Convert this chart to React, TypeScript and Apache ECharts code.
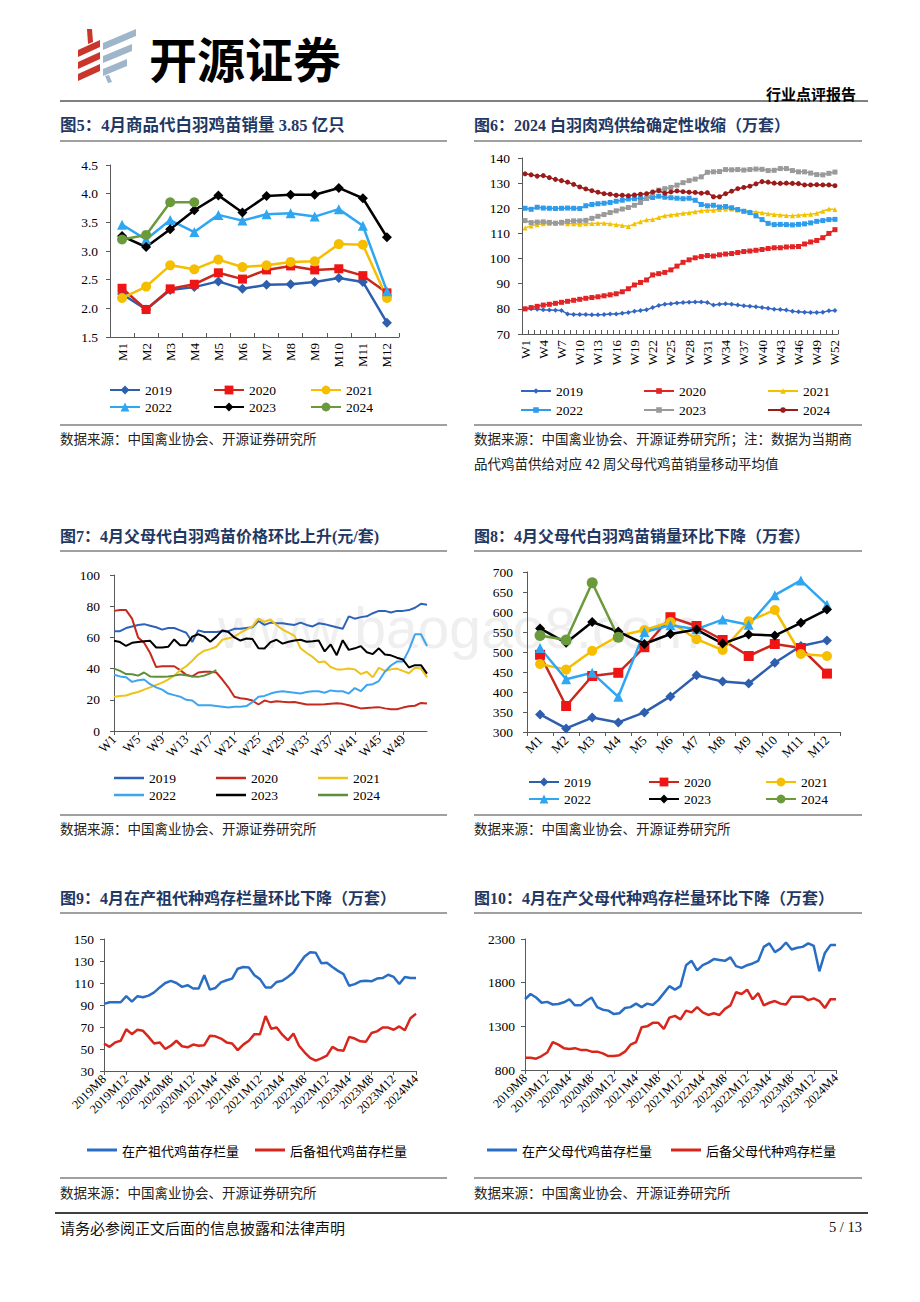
import React, { useEffect, useRef } from "react";
import * as echarts from "echarts";

const SERIF = "'Liberation Serif','Times New Roman',serif";
const CJK = "'Liberation Serif','Noto Sans CJK SC',sans-serif";
const CJK_SANS = "'Noto Sans CJK SC','Noto Sans',sans-serif";

// ---------- category labels ----------
const months = ["M1", "M2", "M3", "M4", "M5", "M6", "M7", "M8", "M9", "M10", "M11", "M12"];
const weeks52 = Array.from({ length: 52 }, (_, i) => "W" + (i + 1));
const weeks53 = Array.from({ length: 53 }, (_, i) => "W" + (i + 1));
const ymLabels: string[] = [];
for (let y = 2019; y <= 2024; y++) {
  for (let m = 1; m <= 12; m++) {
    if ((y === 2019 && m < 8) || (y === 2024 && m > 4)) continue;
    ymLabels.push(`${y}M${m}`);
  }
}
const years = ["2019", "2020", "2021", "2022", "2023", "2024"];

// ---------- Fig 5: commercial chick sales (亿只) ----------
const f5_2019 = [2.25, 1.98, 2.32, 2.37, 2.47, 2.34, 2.41, 2.42, 2.46, 2.53, 2.46, 1.75];
const f5_2020 = [2.35, 1.98, 2.34, 2.42, 2.62, 2.51, 2.67, 2.74, 2.67, 2.69, 2.57, 2.27];
const f5_2021 = [2.18, 2.38, 2.75, 2.68, 2.85, 2.72, 2.75, 2.81, 2.82, 3.12, 3.11, 2.18];
const f5_2022 = [3.46, 3.20, 3.54, 3.33, 3.63, 3.53, 3.64, 3.66, 3.60, 3.73, 3.44, 2.30];
const f5_2023 = [3.26, 3.07, 3.38, 3.71, 3.97, 3.67, 3.96, 3.98, 3.98, 4.10, 3.92, 3.24];
const f5_2024 = [3.20, 3.28, 3.85, 3.85];

// ---------- Fig 6: supply (万套) ----------
const f6_2019 = [80.0, 80.0, 79.8, 79.6, 79.5, 79.4, 79.3, 78.0, 77.8, 77.8, 77.8, 77.7, 77.7, 77.8, 78.0, 78.0, 78.3, 78.6, 79.0, 79.3, 79.6, 80.5, 81.3, 81.8, 82.0, 82.3, 82.5, 82.6, 82.7, 82.7, 82.5, 81.5, 81.8, 82.0, 81.8, 81.5, 81.2, 81.0, 80.8, 80.5, 80.2, 79.8, 79.7, 79.5, 79.0, 78.8, 78.7, 78.6, 78.6, 78.7, 79.2, 79.3];
const f6_2020 = [80.0, 80.5, 81.0, 81.5, 81.8, 82.2, 82.6, 83.0, 83.4, 83.8, 84.2, 84.5, 84.8, 85.2, 85.6, 86.0, 86.8, 88.0, 89.5, 90.5, 91.5, 93.5, 94.0, 94.5, 95.5, 97.0, 98.5, 99.5, 100.3, 100.8, 101.2, 101.0, 101.5, 101.8, 102.0, 102.4, 102.8, 103.0, 103.3, 103.6, 104.0, 104.3, 104.3, 104.6, 104.7, 104.8, 105.8, 106.6, 107.2, 108.3, 110.0, 111.5];
const f6_2021 = [112.2, 113.0, 113.5, 113.8, 113.9, 114.0, 114.0, 113.8, 113.8, 113.7, 113.8, 113.9, 114.0, 114.0, 113.8, 113.5, 113.2, 112.8, 113.8, 114.6, 115.4, 115.5, 116.3, 117.0, 117.3, 117.6, 118.0, 118.2, 118.6, 119.0, 119.2, 119.2, 119.5, 119.7, 119.7, 119.3, 119.0, 118.7, 118.5, 118.2, 117.8, 117.5, 117.3, 117.1, 117.0, 117.2, 117.4, 117.6, 118.0, 118.8, 119.7, 119.5];
const f6_2022 = [120.0, 119.6, 120.4, 120.1, 120.0, 119.9, 120.0, 120.1, 120.0, 119.9, 121.0, 121.5, 121.8, 122.0, 122.3, 122.8, 123.2, 123.7, 123.8, 124.0, 124.0, 124.3, 124.8, 124.4, 124.2, 124.0, 123.8, 124.0, 123.2, 121.5, 121.0, 121.2, 120.5, 120.7, 120.2, 119.5, 118.8, 118.3, 117.0, 115.5, 114.0, 113.5, 113.6, 113.5, 113.4, 113.6, 113.8, 114.2, 114.8, 115.1, 115.5, 115.6];
const f6_2023 = [115.1, 114.3, 114.5, 114.6, 114.4, 114.1, 114.4, 114.8, 115.0, 115.0, 115.2, 116.0, 116.8, 117.5, 118.3, 119.0, 119.7, 120.3, 121.2, 122.3, 124.0, 125.8, 127.2, 127.8, 128.3, 129.2, 130.2, 131.0, 131.6, 132.5, 134.3, 134.5, 134.6, 135.4, 135.3, 135.4, 135.2, 135.4, 135.6, 135.5, 135.0, 135.1, 135.8, 135.8, 135.0, 134.5, 134.5, 134.0, 133.4, 133.3, 133.9, 134.4];
const f6_2024 = [133.7, 133.3, 132.8, 133.0, 132.2, 131.5, 131.0, 130.4, 129.5, 128.5, 127.7, 127.0, 126.4, 125.8, 125.6, 125.2, 125.2, 125.0, 125.3, 125.6, 125.8, 126.5, 127.0, 126.0, 126.5, 126.9, 126.6, 126.4, 126.3, 126.0, 126.2, 124.6, 124.6, 125.8, 126.8, 127.8, 128.3, 128.8, 129.7, 130.6, 130.4, 130.0, 129.9, 130.0, 129.9, 129.8, 129.3, 129.3, 129.4, 129.3, 129.3, 129.0];

// ---------- Fig 7: parent chick price (元/套) ----------
const f7_2019 = [64, 64, 66, 67, 68, 68.5, 67.5, 66.5, 65, 66, 66, 64.5, 63, 57, 64.5, 63.5, 63.5, 63.5, 64, 64, 65.5, 65.5, 66, 66.5, 70.5, 68, 69.5, 69, 69, 68.5, 68, 69.5, 68, 67, 69, 68.5, 67.5, 66.5, 65.5, 73.5, 72, 73, 73.5, 75.5, 77, 77, 76, 77, 77, 77.5, 79, 81.5, 81];
const f7_2020 = [77, 77.5, 77.5, 72, 60, 56.5, 50, 41, 41.5, 41.5, 41.5, 39, 36, 35, 37.5, 38, 38, 37.5, 33, 28, 22, 21, 20.5, 19.5, 17, 19.5, 18.5, 19, 18.7, 18.5, 18.6, 17.8, 17, 17, 17, 17.2, 17.5, 17.8, 17.4, 16.5, 15.5, 14.5, 14.8, 15, 15.3, 14.5, 14, 14, 15, 15.8, 16.2, 18, 17.6];
const f7_2021 = [22, 22.5, 22.8, 24, 25, 26.5, 28, 29.5, 31, 33, 35.5, 39, 41.5, 45, 49, 51.5, 52.5, 54, 58.5, 59.5, 60.5, 63, 65, 67, 72, 70, 71.5, 68, 65, 63, 61, 53, 50, 47.5, 44, 44.5, 41, 39.5, 39.5, 40, 39.5, 36.5, 38, 34.5, 40.5, 38.5, 39.5, 40, 38.5, 37, 40.5, 40, 34.5];
const f7_2022 = [36, 35, 34.5, 31.5, 32.5, 33, 30, 28, 26.5, 24, 23, 22, 20, 19.5, 16.5, 16.5, 16.5, 16, 15.5, 15, 15.5, 15.5, 16, 18.5, 22, 22.5, 24, 25, 25.5, 25, 24.5, 24, 25, 25.5, 25.5, 24.5, 26, 25.5, 25.5, 24, 27.5, 25.5, 29.5, 30, 32, 38, 42, 44.5, 44.5, 52, 62, 62, 54.5];
const f7_2023 = [57.8, 57, 54.5, 56.5, 57, 57.5, 57.8, 53.5, 53.5, 54, 58.7, 55, 55, 60.5, 62, 60.5, 57.2, 60.5, 64.5, 63.5, 60, 58, 59.3, 59, 53, 52.9, 57, 58.5, 56, 57.2, 58, 58.5, 57.2, 57.5, 58, 51, 55.5, 48.6, 58.2, 52, 53, 54.4, 50.5, 49.3, 53, 49, 48.5, 47, 45.8, 40.7, 42.2, 42.2, 36.8];
const f7_2024 = [40, 38.5, 36.5, 36.4, 35.5, 37.5, 35, 34.7, 34.7, 35, 35.5, 36.2, 35.8, 35, 34.7, 35.5, 37, 39];

// ---------- Fig 8: parent chick sales (万套) ----------
const f8_2019 = [344, 309, 336, 324, 349, 389, 442, 426, 421, 473, 515, 529];
const f8_2020 = [493, 365, 440, 448, 512, 587, 565, 530, 490, 520, 510, 446];
const f8_2021 = [470, 456, 503, 540, 555, 575, 532, 505, 577, 605, 495, 490];
const f8_2022 = [510, 432, 448, 388, 550, 567, 557, 581, 568, 642, 679, 618];
const f8_2023 = [559, 523, 575, 551, 520, 545, 556, 521, 544, 541, 573, 606];
const f8_2024 = [541, 530, 673, 537];

// ---------- Fig 9: grandparent stock (万套) ----------
const f9_inProd = [91, 92.5, 92.5, 92.5, 98, 93, 98, 97, 98.5, 101.5, 106, 110, 112, 110, 106.5, 108, 105, 105, 117, 104, 105.5, 110.5, 112.5, 114, 123, 124.5, 124, 117, 113.5, 106, 106, 111, 112, 115.5, 119.5, 127, 134, 138, 137.5, 128, 128.5, 124.5, 121, 118, 107.5, 109, 111.5, 112, 111.5, 114, 114.5, 117.5, 115.5, 109, 115.5, 114.5, 114.5];
const f9_reserve = [55, 52, 56, 57.5, 68, 63.5, 67.5, 66.5, 61, 55, 56, 50, 53, 57.5, 52.5, 51.5, 54, 53, 53.5, 62, 61.5, 59.5, 56, 55, 49, 54, 57.5, 63.5, 63.5, 80, 68.5, 69.5, 63, 58, 64, 53, 47, 42, 39.5, 41.5, 44, 52, 49, 48.5, 61, 59.5, 57, 56.5, 64.5, 66, 69.5, 69.5, 67.5, 70.5, 67, 78, 82];

// ---------- Fig 10: parent stock (万套) ----------
const f10_inProd = [1610, 1670, 1630, 1570, 1580, 1550, 1555, 1575, 1610, 1540, 1540, 1590, 1630, 1520, 1490, 1480, 1440, 1450, 1510, 1520, 1560, 1520, 1560, 1545, 1600, 1680, 1760, 1720, 1760, 2000, 2050, 1940, 2000, 2030, 2070, 2060, 2050, 2090, 1990, 1970, 2000, 2020, 2050, 2210, 2250, 2150, 2190, 2260, 2180, 2200, 2210, 2250, 2220, 1930, 2140, 2230, 2230];
const f10_reserve = [940, 940, 930, 960, 1000, 1120, 1090, 1050, 1040, 1050, 1030, 1030, 1010, 1010, 990, 960, 960, 970, 1010, 1090, 1120, 1290, 1300, 1340, 1340, 1270, 1400, 1420, 1380, 1480, 1460, 1520, 1460, 1430, 1450, 1430, 1500, 1540, 1690, 1670, 1720, 1610, 1680, 1540, 1570, 1590, 1560, 1550, 1640, 1640, 1640, 1600, 1620, 1590, 1510, 1610, 1610];

// ---------- helpers ----------
type SDef = { name: string; data: number[]; color: string; itemColor?: string; sym?: string; size?: number; lw: number };

function mk(g: number, suffix: string, s: SDef) {
  return {
    type: "line",
    name: s.name + suffix,
    xAxisIndex: g,
    yAxisIndex: g,
    data: s.data,
    symbol: s.sym ?? "none",
    symbolSize: s.size ?? 0,
    showSymbol: !!s.sym,
    showAllSymbol: true,
    lineStyle: { color: s.color, width: s.lw },
    itemStyle: { color: s.itemColor ?? s.color, borderWidth: 0 },
    emphasis: { disabled: true },
    silent: true,
  };
}

function lg(name: string, left: number, centerY: number, itemHeight: number, fontFamily: string, fontSize: number, icon?: string, itemWidth = 30) {
  const l: any = {
    show: true,
    left,
    top: centerY - 8,
    padding: 0,
    itemWidth,
    itemHeight,
    itemGap: 0,
    selectedMode: false,
    data: [name],
    formatter: (n: string) => n.trim(),
    textStyle: { fontFamily, fontSize, color: "#000", lineHeight: 16, padding: [0, 0, 0, 0] },
  };
  if (icon) l.icon = icon;
  return l;
}

function yA(g: number, min: number, max: number, interval: number, margin: number, fmt?: (v: number) => string) {
  return {
    type: "value",
    gridIndex: g,
    min,
    max,
    interval,
    axisLine: { show: true, lineStyle: { color: "#595959", width: 1 } },
    axisTick: { show: true, length: 4, lineStyle: { color: "#595959" } },
    splitLine: { show: false },
    axisLabel: { color: "#000", fontFamily: SERIF, fontSize: 13.5, margin, formatter: fmt ?? ((v: number) => String(v)) },
  };
}

function xA(g: number, data: string[], o: { bg: boolean; labInt: any; tickInt: any; rot: number; fs: number; inside?: boolean; margin?: number }) {
  return {
    type: "category",
    gridIndex: g,
    data,
    boundaryGap: o.bg,
    axisLine: { show: true, lineStyle: { color: "#595959", width: 1 } },
    axisTick: { show: true, length: 4, inside: !!o.inside, interval: o.tickInt, lineStyle: { color: "#595959" } },
    axisLabel: { interval: o.labInt, rotate: o.rot, fontFamily: SERIF, fontSize: o.fs, color: "#000", margin: o.margin ?? 6 },
    splitLine: { show: false },
  };
}

const txt = (text: string, x: number, y: number, size: number, family: string, opts: any = {}) => ({
  type: "text",
  x,
  y,
  silent: true,
  z: opts.z ?? 10,
  style: {
    text,
    fill: opts.fill ?? "#000",
    fontSize: size,
    fontFamily: family,
    fontWeight: opts.weight ?? "normal",
    align: opts.align ?? "left",
    verticalAlign: "middle",
  },
});

const hline = (x1: number, x2: number, y: number, stroke: string, lw: number) => ({
  type: "line",
  silent: true,
  shape: { x1, y1: y, x2, y2: y },
  style: { stroke, lineWidth: lw },
});

const poly = (points: number[][], fill: string) => ({
  type: "polygon",
  silent: true,
  shape: { points },
  style: { fill },
});

export default function App() {
  const ref = useRef<HTMLDivElement>(null);

  useEffect(() => {
    if (!ref.current) return;
    const chart = echarts.init(ref.current, undefined, { renderer: "svg" });

    const c5 = { y19: "#2E5EAE", y20: "#C8281E", y20m: "#F01515", y21: "#F5BF00", y22: "#2EA6F2", y23: "#000000", y24: "#6B9A3C" };
    const c6 = { y19: "#3366C2", y20: "#E22424", y21: "#F2C200", y22: "#2F9BEB", y23: "#9A9A9A", y24: "#9B1B1B" };
    const c7 = { y19: "#2E62B8", y20: "#C62A1E", y21: "#EFC21A", y22: "#3DA5F0", y23: "#000000", y24: "#5E8E3A" };
    const cBlue = "#2A6EC4";
    const cRed = "#D9261C";

    const s5: SDef[] = [
      { name: "2019", data: f5_2019, color: c5.y19, sym: "diamond", size: 10, lw: 2.5 },
      { name: "2020", data: f5_2020, color: c5.y20, itemColor: c5.y20m, sym: "rect", size: 9, lw: 2.5 },
      { name: "2021", data: f5_2021, color: c5.y21, sym: "circle", size: 10, lw: 2.5 },
      { name: "2022", data: f5_2022, color: c5.y22, sym: "triangle", size: 10, lw: 2.5 },
      { name: "2023", data: f5_2023, color: c5.y23, sym: "diamond", size: 10, lw: 2.5 },
      { name: "2024", data: f5_2024, color: c5.y24, sym: "circle", size: 10, lw: 2.5 },
    ];
    const s6: SDef[] = [
      { name: "2019", data: f6_2019, color: c6.y19, sym: "diamond", size: 5, lw: 1.5 },
      { name: "2020", data: f6_2020, color: c6.y20, sym: "rect", size: 5, lw: 1.5 },
      { name: "2021", data: f6_2021, color: c6.y21, sym: "triangle", size: 5, lw: 1.5 },
      { name: "2022", data: f6_2022, color: c6.y22, sym: "rect", size: 5, lw: 1.5 },
      { name: "2023", data: f6_2023, color: c6.y23, sym: "rect", size: 5, lw: 1.5 },
      { name: "2024", data: f6_2024, color: c6.y24, sym: "circle", size: 5, lw: 1.5 },
    ];
    const s7: SDef[] = [
      { name: "2019", data: f7_2019, color: c7.y19, lw: 2 },
      { name: "2020", data: f7_2020, color: c7.y20, lw: 2 },
      { name: "2021", data: f7_2021, color: c7.y21, lw: 2 },
      { name: "2022", data: f7_2022, color: c7.y22, lw: 2 },
      { name: "2023", data: f7_2023, color: c7.y23, lw: 2 },
      { name: "2024", data: f7_2024, color: c7.y24, lw: 2 },
    ];
    const s8: SDef[] = [
      { name: "2019", data: f8_2019, color: c5.y19, sym: "diamond", size: 10, lw: 2.5 },
      { name: "2020", data: f8_2020, color: c5.y20, itemColor: c5.y20m, sym: "rect", size: 10, lw: 2.5 },
      { name: "2021", data: f8_2021, color: c5.y21, sym: "circle", size: 10, lw: 2.5 },
      { name: "2022", data: f8_2022, color: c5.y22, sym: "triangle", size: 10, lw: 2.5 },
      { name: "2023", data: f8_2023, color: c5.y23, sym: "diamond", size: 10, lw: 2.5 },
      { name: "2024", data: f8_2024, color: c5.y24, sym: "circle", size: 11, lw: 2.5 },
    ];
    const s9: SDef[] = [
      { name: "在产祖代鸡苗存栏量", data: f9_inProd, color: cBlue, lw: 2.5 },
      { name: "后备祖代鸡苗存栏量", data: f9_reserve, color: cRed, lw: 2.5 },
    ];
    const s10: SDef[] = [
      { name: "在产父母代鸡苗存栏量", data: f10_inProd, color: cBlue, lw: 2.5 },
      { name: "后备父母代种鸡存栏量", data: f10_reserve, color: cRed, lw: 2.5 },
    ];

    const series = [
      ...s5.map((s) => mk(0, "", s)),
      ...s6.map((s) => mk(1, " ", s)),
      ...s7.map((s) => mk(2, "  ", s)),
      ...s8.map((s) => mk(3, "   ", s)),
      ...s9.map((s) => mk(4, "", s)),
      ...s10.map((s) => mk(5, "", s)),
    ];

    const legends: any[] = [];
    const addYearLegends = (suffix: string, cols: number[], rows: number[], ih: number, icon?: string) => {
      years.forEach((y, i) => {
        legends.push(lg(y + suffix, cols[i % 3], rows[Math.floor(i / 3)], ih, SERIF, 13.5, icon));
      });
    };
    addYearLegends("", [109, 213, 310], [390, 407], 11);
    addYearLegends(" ", [520, 643, 767], [391, 410], 7);
    addYearLegends("  ", [114, 216, 318], [778, 795], 2.5, "rect");
    addYearLegends("   ", [528, 648, 765], [782, 799], 11);
    legends.push(lg(s9[0].name, 87, 1150, 3, CJK_SANS, 13, "rect"));
    legends.push(lg(s9[1].name, 255, 1150, 3, CJK_SANS, 13, "rect"));
    legends.push(lg(s10[0].name, 487, 1150, 3, CJK_SANS, 13, "rect"));
    legends.push(lg(s10[1].name, 671, 1150, 3, CJK_SANS, 13, "rect"));

    const titleColor = "#1F3864";
    const ruleColor = "#808080";
    const graphic: any[] = [
      // watermark (faint, as in the reference)
      txt("www.baogao8.com", 218, 628, 57, "'Liberation Sans',Arial,sans-serif", { fill: "#efefef", z: -5 }),
      // logo
      poly([[87, 29], [92, 29], [93, 42], [88, 44]], "#C9372C"),
      poly([[78, 50], [100, 40], [100, 47], [78, 57]], "#C9372C"),
      poly([[78, 62], [100, 52], [100, 59], [78, 69]], "#C9372C"),
      poly([[78, 74], [100, 64], [100, 71], [78, 81]], "#C9372C"),
      poly([[103, 43], [136, 29], [136, 36], [103, 50]], "#9FB5C9"),
      poly([[103, 56], [132, 44], [132, 51], [103, 63]], "#9FB5C9"),
      poly([[103, 69], [127, 59], [127, 66], [103, 76]], "#9FB5C9"),
      poly([[105, 76], [109, 75], [112, 82], [108, 83]], "#9FB5C9"),
      txt("开源证券", 149, 57, 48, CJK_SANS, { weight: "bold" }),
      txt("行业点评报告", 856, 93, 15, CJK_SANS, { weight: "bold", align: "right" }),
      hline(60, 868, 101, ruleColor, 2),
      // titles row 1
      txt("图5：4月商品代白羽鸡苗销量 3.85 亿只", 60, 125, 16.5, CJK, { weight: "bold", fill: titleColor }),
      txt("图6：2024 白羽肉鸡供给确定性收缩（万套）", 474, 125, 16, CJK, { weight: "bold", fill: titleColor }),
      hline(60, 447, 141, ruleColor, 1.5),
      hline(474, 862, 141, ruleColor, 1.5),
      // sources row 1
      hline(60, 447, 425, ruleColor, 1.5),
      hline(474, 862, 425, ruleColor, 1.5),
      txt("数据来源：中国禽业协会、开源证券研究所", 60, 438, 13.5, CJK_SANS, { fill: "#222" }),
      txt("数据来源：中国禽业协会、开源证券研究所；注：数据为当期商", 474, 438, 13.5, CJK_SANS, { fill: "#222" }),
      txt("品代鸡苗供给对应 42 周父母代鸡苗销量移动平均值", 474, 463, 13.5, CJK_SANS, { fill: "#222" }),
      // titles row 2
      txt("图7：4月父母代白羽鸡苗价格环比上升(元/套)", 60, 536, 16, CJK, { weight: "bold", fill: titleColor }),
      txt("图8：4月父母代白羽鸡苗销量环比下降（万套）", 474, 536, 16, CJK, { weight: "bold", fill: titleColor }),
      hline(60, 447, 551, ruleColor, 1.5),
      hline(474, 862, 551, ruleColor, 1.5),
      hline(60, 447, 815, ruleColor, 1.5),
      hline(474, 862, 815, ruleColor, 1.5),
      txt("数据来源：中国禽业协会、开源证券研究所", 60, 828, 13.5, CJK_SANS, { fill: "#222" }),
      txt("数据来源：中国禽业协会、开源证券研究所", 474, 828, 13.5, CJK_SANS, { fill: "#222" }),
      // titles row 3
      txt("图9：4月在产祖代种鸡存栏量环比下降（万套）", 60, 898, 16, CJK, { weight: "bold", fill: titleColor }),
      txt("图10：4月在产父母代种鸡存栏量环比下降（万套）", 474, 898, 16, CJK, { weight: "bold", fill: titleColor }),
      hline(60, 447, 913, ruleColor, 1.5),
      hline(474, 862, 913, ruleColor, 1.5),
      hline(60, 447, 1178, ruleColor, 1.5),
      hline(474, 862, 1178, ruleColor, 1.5),
      txt("数据来源：中国禽业协会、开源证券研究所", 60, 1192, 13.5, CJK_SANS, { fill: "#222" }),
      txt("数据来源：中国禽业协会、开源证券研究所", 474, 1192, 13.5, CJK_SANS, { fill: "#222" }),
      // footer
      hline(55, 868, 1213, "#000", 1.5),
      txt("请务必参阅正文后面的信息披露和法律声明", 60, 1227, 15, CJK_SANS, { fill: "#111" }),
      txt("5 / 13", 862, 1227, 14.5, SERIF, { align: "right", fill: "#111" }),
    ];

    const every4Upto49 = (i: number) => i % 4 === 0 && i < 52;

    const option: any = {
      animation: false,
      backgroundColor: "#ffffff",
      grid: [
        { left: 110, top: 165, width: 289, height: 172 },
        { left: 522, top: 158, width: 316, height: 176 },
        { left: 114, top: 575, width: 313, height: 156 },
        { left: 527, top: 572, width: 313, height: 160 },
        { left: 104, top: 939, width: 312, height: 132 },
        { left: 525, top: 939, width: 311, height: 131 },
      ],
      xAxis: [
        xA(0, months, { bg: true, labInt: 0, tickInt: 0, rot: 90, fs: 13, inside: true, margin: 6 }),
        xA(1, weeks52, { bg: true, labInt: 2, tickInt: 0, rot: 90, fs: 13, inside: true, margin: 6 }),
        xA(2, weeks53, { bg: false, labInt: every4Upto49, tickInt: every4Upto49, rot: 45, fs: 13, margin: 6 }),
        xA(3, months, { bg: true, labInt: 0, tickInt: 0, rot: 45, fs: 13, margin: 6 }),
        xA(4, ymLabels, { bg: false, labInt: 3, tickInt: 3, rot: 45, fs: 12.5, margin: 6 }),
        xA(5, ymLabels, { bg: false, labInt: 3, tickInt: 3, rot: 45, fs: 12.5, margin: 6 }),
      ],
      yAxis: [
        yA(0, 1.5, 4.5, 0.5, 12, (v: number) => v.toFixed(1)),
        yA(1, 70, 140, 10, 12),
        yA(2, 0, 100, 20, 14),
        yA(3, 300, 700, 50, 14),
        yA(4, 30, 150, 20, 10),
        yA(5, 800, 2300, 500, 10),
      ],
      legend: legends,
      graphic,
      series,
    };

    chart.setOption(option);
    return () => chart.dispose();
  }, []);

  return (
    <div
      ref={ref}
      style={{ position: "absolute", left: 0, top: 0, width: 920, height: 1302, background: "#fff" }}
    />
  );
}
